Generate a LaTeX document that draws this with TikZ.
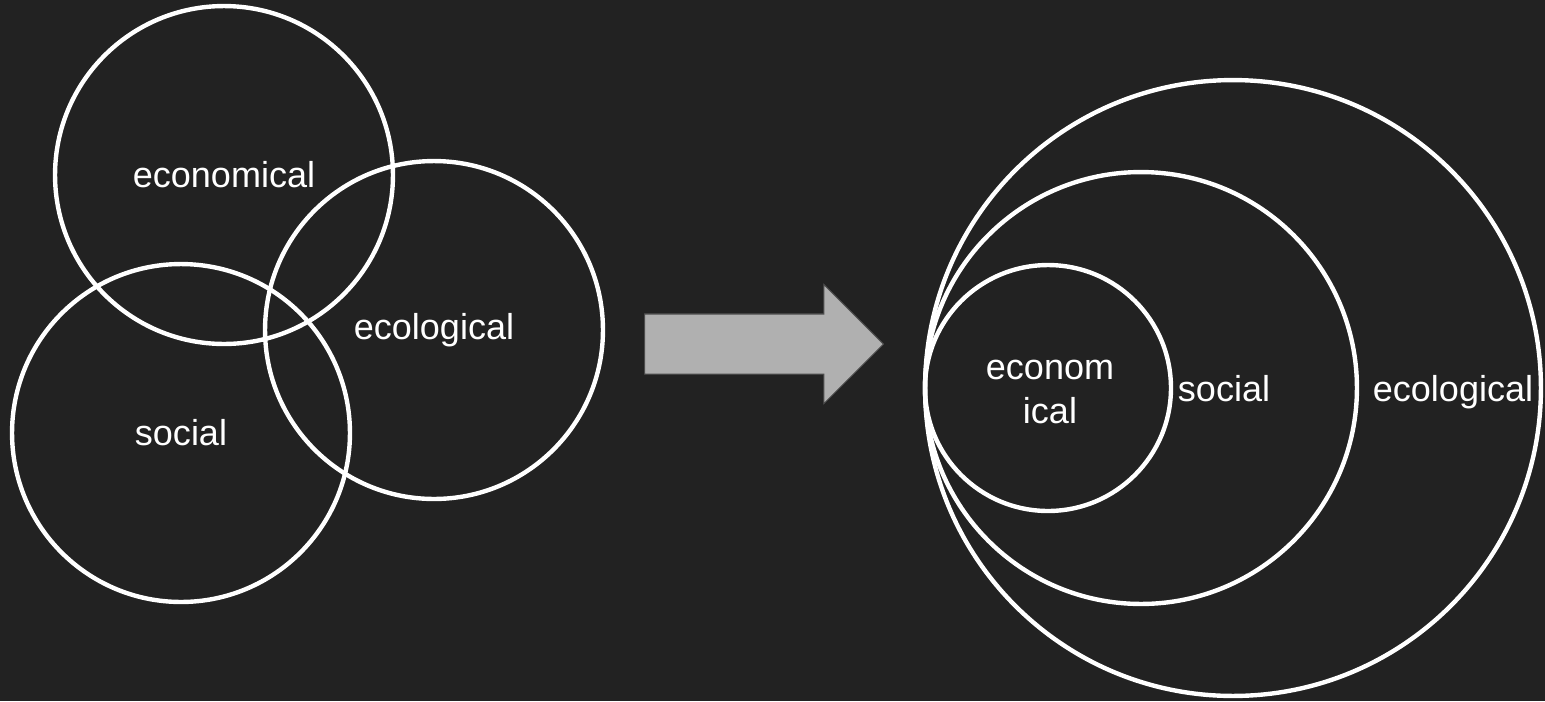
\documentclass[tikz,border=0pt]{standalone}
\usepackage{fontspec}
\setmainfont{Liberation Sans}
\usepackage{xcolor}
\usetikzlibrary{shapes.arrows}
\definecolor{slate}{HTML}{222222}
\definecolor{arrowgrey}{HTML}{B0B0B0}
\tikzstyle{ring} = [circle, draw=white, line width=2.5pt, text=white, inner sep=0pt]
\tikzstyle{tag} = [text=white, inner sep=0pt]
\tikzstyle{bigarrow} = [single arrow, draw=black!70, fill=arrowgrey, line width=0.6pt, minimum height=4.78cm, text height=0.59cm, text depth=0.59cm, single arrow head extend=0.59cm, single arrow tip angle=90, inner sep=0pt]

\begin{document}
\begin{tikzpicture}[x=0.02cm, y=-0.02cm, font=\fontsize{20.5}{25.5}\selectfont]
\path[fill=slate, use as bounding box] (0,0) rectangle (1545,701);
% three overlapping rings
\node (econ) [ring, minimum size=6.76cm] at (224,175) {economical};
\node (soc) [ring, minimum size=6.76cm] at (181,433) {social};
\node (eco) [ring, minimum size=6.76cm] at (434,330) {ecological};
\node (shift) [bigarrow, anchor=tail] at (644,344) {};
% nested rings, touching at the left
\node (eco2) [ring, minimum size=12.32cm] at (1233,388) {};
\node (soc2) [ring, minimum size=8.64cm] at (1141,388) {};
\node (econ2) [ring, minimum size=4.92cm] at (1048,388) {};
\node (econ2txt) [tag, align=center] at (1050,392) {econom\\ical};
\node (soc2txt) [tag, anchor=base] at (1224,401) {social};
\node (eco2txt) [tag, anchor=base] at (1453,401) {ecological};
\end{tikzpicture}
\end{document}
